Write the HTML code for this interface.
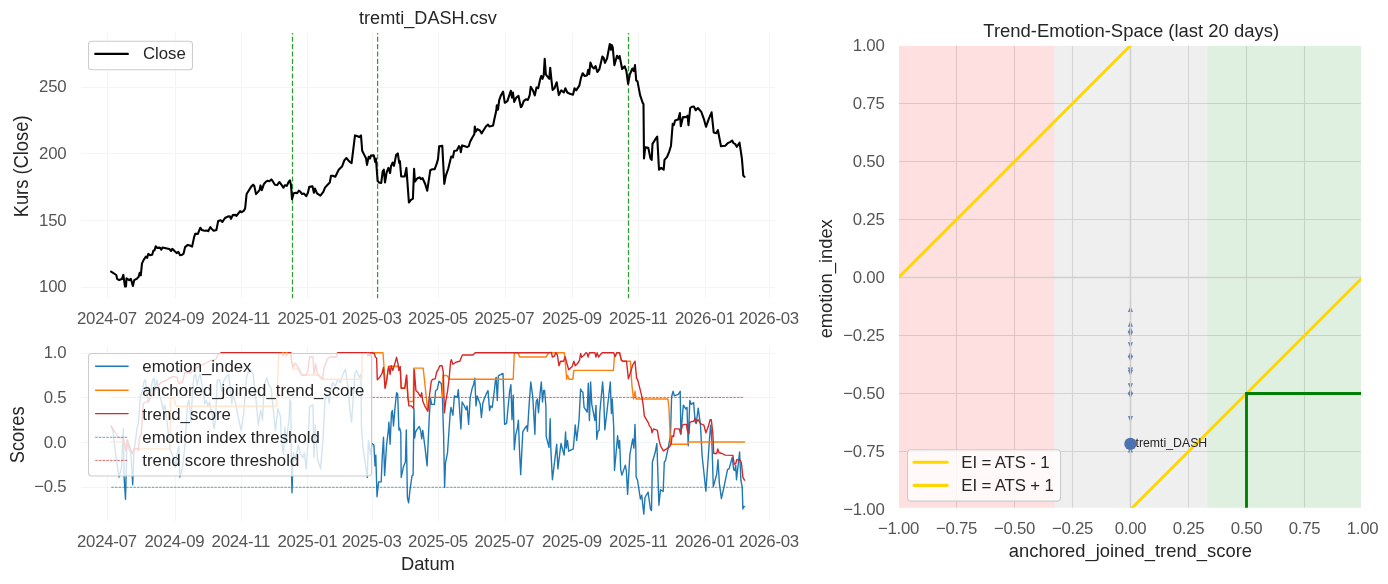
<!DOCTYPE html>
<html><head><meta charset="utf-8"><title>tremti_DASH</title>
<style>
html,body{margin:0;padding:0;background:#fff;}
svg{display:block;will-change:transform;}
text{font-family:"Liberation Sans",sans-serif;}
.tk{font-size:16.8px;fill:#555555;letter-spacing:-0.25px;}
.lg{font-size:16.8px;fill:#262626;word-spacing:-0.35px;}
.tt{font-size:18.33px;fill:#262626;}
</style></head><body>
<svg width="1388" height="584" viewBox="0 0 1388 584">
<rect width="1388" height="584" fill="#fff"/>
<defs>
<clipPath id="cr"><rect x="899" y="45.9" width="462" height="461.9"/></clipPath>
<clipPath id="cb"><rect x="80.8" y="345.8" width="694.7" height="175.1"/></clipPath>
</defs>

<g stroke="#f4f4f4" stroke-width="1" fill="none">
<line x1="107.5" y1="33.0" x2="107.5" y2="298.0"/>
<line x1="175.5" y1="33.0" x2="175.5" y2="298.0"/>
<line x1="241.5" y1="33.0" x2="241.5" y2="298.0"/>
<line x1="307.5" y1="33.0" x2="307.5" y2="298.0"/>
<line x1="372.5" y1="33.0" x2="372.5" y2="298.0"/>
<line x1="438.5" y1="33.0" x2="438.5" y2="298.0"/>
<line x1="505.5" y1="33.0" x2="505.5" y2="298.0"/>
<line x1="572.5" y1="33.0" x2="572.5" y2="298.0"/>
<line x1="638.5" y1="33.0" x2="638.5" y2="298.0"/>
<line x1="705.5" y1="33.0" x2="705.5" y2="298.0"/>
<line x1="769.5" y1="33.0" x2="769.5" y2="298.0"/>
<line x1="81.0" y1="87.5" x2="775.2" y2="87.5"/>
<line x1="81.0" y1="153.5" x2="775.2" y2="153.5"/>
<line x1="81.0" y1="220.5" x2="775.2" y2="220.5"/>
<line x1="81.0" y1="287.5" x2="775.2" y2="287.5"/>
</g>
<line x1="292.5" y1="33.0" x2="292.5" y2="298.2" stroke="#2ca02c" stroke-width="1.25" stroke-dasharray="5.14 2.214" stroke-dashoffset="3.65"/>
<line x1="377.6" y1="33.0" x2="377.6" y2="298.2" stroke="#2ca02c" stroke-width="1.25" stroke-dasharray="5.14 2.214" stroke-dashoffset="3.65"/>
<line x1="628.5" y1="33.0" x2="628.5" y2="298.2" stroke="#2ca02c" stroke-width="1.25" stroke-dasharray="5.14 2.214" stroke-dashoffset="3.65"/>
<polyline points="111.1,271.6 116.3,275.0 117.1,278.8 119.2,280.1 121.9,279.1 123.3,274.7 125.0,286.5 126.0,286.5 126.5,278.4 129.1,280.1 130.8,278.8 132.9,286.0 134.2,280.1 136.8,278.8 138.5,277.1 139.7,272.8 140.8,275.3 142.0,263.4 143.7,259.9 145.9,256.5 147.1,257.9 148.3,253.9 150.0,255.1 152.2,254.8 153.4,250.5 154.5,250.5 155.7,246.2 157.0,247.9 159.9,247.6 161.3,249.7 162.5,247.6 165.9,248.3 169.3,249.0 171.1,251.0 172.3,248.8 174.5,251.0 176.7,253.1 178.4,251.9 180.0,255.1 182.2,254.8 183.6,253.4 185.1,247.1 187.7,244.9 189.9,245.5 192.1,246.6 194.2,236.8 195.2,233.9 197.9,233.9 200.3,227.7 201.9,230.1 204.5,230.8 207.0,230.5 208.2,231.2 210.4,227.1 212.2,229.5 213.9,230.8 216.4,230.0 218.2,220.9 220.7,220.2 222.4,221.9 225.0,218.0 227.6,216.6 229.8,216.3 231.0,218.8 232.7,215.1 235.3,214.9 236.5,215.9 238.4,213.4 240.1,211.1 241.3,212.3 243.7,210.8 245.1,208.7 246.6,194.0 248.8,190.5 251.4,186.4 253.1,184.7 254.3,185.9 256.0,194.1 258.3,191.6 259.6,189.9 260.5,185.4 261.8,190.2 263.9,184.2 266.0,181.6 267.7,180.8 269.4,181.3 271.4,179.4 273.2,182.0 274.9,184.7 277.1,185.1 279.3,182.0 281.4,184.7 283.4,187.6 285.1,185.1 286.8,185.9 288.6,182.0 289.9,180.3 291.0,185.1 292.0,199.1 293.7,193.3 295.9,192.8 297.1,193.3 298.8,190.7 300.5,191.9 301.9,194.0 304.0,193.6 306.2,196.2 307.9,192.8 309.3,186.8 312.5,186.4 313.9,192.8 314.9,188.5 317.0,193.3 320.4,195.7 323.3,191.9 325.0,187.6 327.6,184.7 329.8,182.5 331.0,175.7 332.7,175.7 335.3,176.8 338.7,169.7 342.2,166.2 344.4,160.2 346.4,158.0 349.0,161.1 351.6,163.2 355.0,135.4 357.6,136.3 359.3,137.1 361.0,135.4 362.2,150.8 364.4,155.1 366.1,158.5 367.0,164.9 368.7,156.8 370.1,158.5 370.8,155.6 373.8,155.4 375.2,162.0 375.9,158.5 377.6,180.8 379.0,182.5 381.2,183.0 382.7,171.4 383.8,169.7 385.0,182.5 386.7,172.2 388.4,167.9 390.1,173.1 391.0,166.2 392.7,162.5 394.0,165.9 396.1,155.1 397.8,153.4 399.2,162.8 399.9,161.1 401.2,176.5 404.7,176.5 406.4,167.9 408.9,202.5 411.2,199.6 412.9,198.8 414.1,168.8 414.9,181.6 417.5,178.2 419.7,177.4 420.9,179.1 422.6,178.2 425.2,184.0 427.2,190.8 430.3,170.2 432.3,169.3 434.6,169.3 436.8,163.4 438.0,159.1 439.2,146.2 442.3,145.9 444.3,183.9 445.7,176.2 448.3,168.5 451.2,156.5 452.9,157.4 454.2,151.0 456.8,150.5 459.0,146.2 460.2,147.9 460.8,152.2 462.1,145.4 464.9,146.2 467.1,147.1 468.8,146.2 470.0,142.0 472.2,137.7 474.3,134.2 474.8,126.5 475.7,131.7 477.4,129.1 479.9,130.5 481.6,133.4 483.7,130.0 485.9,126.5 488.0,124.5 489.3,126.5 491.6,126.0 493.1,125.5 494.3,119.5 496.3,110.5 496.8,105.3 498.0,109.6 499.2,100.2 500.9,95.4 503.1,91.6 504.8,102.8 507.4,101.1 509.1,95.9 510.8,90.8 512.0,97.6 512.9,92.5 514.2,101.9 516.3,97.6 518.5,95.9 520.8,107.1 521.9,106.2 523.7,101.1 525.9,99.3 527.9,99.9 529.7,95.1 530.7,86.8 533.1,90.8 534.8,95.4 536.5,87.4 538.2,88.2 540.3,78.8 541.3,75.9 542.5,78.8 543.7,75.4 544.7,58.8 545.9,74.5 547.1,76.2 549.3,78.8 550.2,67.7 551.6,81.4 552.6,89.9 554.5,88.2 556.7,82.2 558.8,95.1 561.3,90.3 563.9,92.5 565.3,88.2 567.3,92.5 569.9,93.7 573.0,94.7 574.5,88.2 576.2,90.3 579.3,85.7 581.0,77.9 582.7,73.2 584.5,75.9 587.0,75.4 588.2,69.7 589.2,74.2 590.4,62.5 592.2,66.8 593.9,68.5 595.6,66.0 597.3,72.0 599.3,69.4 602.4,56.5 603.6,57.7 605.0,62.9 607.1,58.3 609.8,44.0 611.0,49.7 611.8,45.1 612.7,47.1 614.4,65.1 617.0,55.7 618.4,58.3 619.6,56.0 622.1,69.0 624.7,66.3 626.4,71.1 628.1,83.9 629.8,74.5 632.4,68.5 633.8,71.1 635.0,65.1 636.2,80.5 637.5,81.4 640.1,95.1 642.7,102.8 643.5,104.0 644.0,158.5 645.3,147.4 648.3,147.9 650.5,158.5 651.7,159.9 652.5,143.9 655.1,139.7 657.2,136.6 659.0,169.6 661.1,167.9 663.7,169.6 664.5,159.9 667.1,156.8 669.3,151.3 671.0,145.7 672.7,123.9 673.9,125.1 675.1,120.5 678.2,119.5 679.9,113.1 680.8,126.3 683.0,117.1 685.9,117.1 687.6,115.7 688.5,125.1 690.2,108.0 691.9,106.8 694.0,106.6 695.7,110.2 697.9,108.0 701.3,111.9 703.9,119.1 706.0,126.8 708.7,119.1 711.6,112.3 713.7,132.5 716.2,133.2 717.9,130.2 721.0,146.2 725.3,145.7 727.9,143.1 730.4,141.9 732.2,140.5 733.4,143.1 735.1,143.9 736.8,146.8 739.5,142.7 741.9,158.5 743.3,175.6 744.5,176.8" fill="none" stroke="#000" stroke-width="2.08" stroke-linejoin="round" stroke-linecap="round"/>
<text class="tk" x="106.9" y="324" text-anchor="middle">2024-07</text>
<text class="tk" x="174.4" y="324" text-anchor="middle">2024-09</text>
<text class="tk" x="240.9" y="324" text-anchor="middle">2024-11</text>
<text class="tk" x="307.3" y="324" text-anchor="middle">2025-01</text>
<text class="tk" x="371.6" y="324" text-anchor="middle">2025-03</text>
<text class="tk" x="438.0" y="324" text-anchor="middle">2025-05</text>
<text class="tk" x="504.4" y="324" text-anchor="middle">2025-07</text>
<text class="tk" x="571.9" y="324" text-anchor="middle">2025-09</text>
<text class="tk" x="638.4" y="324" text-anchor="middle">2025-11</text>
<text class="tk" x="704.8" y="324" text-anchor="middle">2026-01</text>
<text class="tk" x="769.0" y="324" text-anchor="middle">2026-03</text>
<text class="tk" x="66.3" y="92.3" text-anchor="end">250</text>
<text class="tk" x="66.3" y="158.9" text-anchor="end">200</text>
<text class="tk" x="66.3" y="225.5" text-anchor="end">150</text>
<text class="tk" x="66.3" y="292.1" text-anchor="end">100</text>
<text class="tt" transform="translate(427.9,24.1) scale(0.988,1.045)" text-anchor="middle">tremti_DASH.csv</text>
<text class="tt" transform="translate(27.8,166.4) rotate(-90) scale(1,1.08)" text-anchor="middle">Kurs (Close)</text>
<rect x="88.5" y="41.2" width="104" height="28.5" rx="3.3" fill="#fff" fill-opacity="0.8" stroke="#cccccc" stroke-width="1.1"/>
<line x1="95.2" y1="53.9" x2="127.9" y2="53.9" stroke="#000" stroke-width="2.08" stroke-linecap="round"/>
<text class="lg" x="142.9" y="59.2">Close</text>
<g stroke="#f4f4f4" stroke-width="1" fill="none">
<line x1="107.5" y1="346.0" x2="107.5" y2="521.0"/>
<line x1="175.5" y1="346.0" x2="175.5" y2="521.0"/>
<line x1="241.5" y1="346.0" x2="241.5" y2="521.0"/>
<line x1="307.5" y1="346.0" x2="307.5" y2="521.0"/>
<line x1="372.5" y1="346.0" x2="372.5" y2="521.0"/>
<line x1="438.5" y1="346.0" x2="438.5" y2="521.0"/>
<line x1="505.5" y1="346.0" x2="505.5" y2="521.0"/>
<line x1="572.5" y1="346.0" x2="572.5" y2="521.0"/>
<line x1="638.5" y1="346.0" x2="638.5" y2="521.0"/>
<line x1="705.5" y1="346.0" x2="705.5" y2="521.0"/>
<line x1="769.5" y1="346.0" x2="769.5" y2="521.0"/>
<line x1="81.0" y1="353.5" x2="775.2" y2="353.5"/>
<line x1="81.0" y1="397.5" x2="775.2" y2="397.5"/>
<line x1="81.0" y1="442.5" x2="775.2" y2="442.5"/>
<line x1="81.0" y1="487.5" x2="775.2" y2="487.5"/>
</g>
<g clip-path="url(#cb)" fill="none" stroke-linejoin="round" stroke-linecap="round">
<polyline points="111.3,426.5 113.0,431.7 115.5,453.1 117.3,465.1 119.0,477.1 121.5,467.6 123.3,428.3 124.1,477.0 125.5,499.3 126.7,451.4 127.5,439.4 129.2,449.7 131.0,453.0 132.7,484.8 134.0,451.4 137.0,429.1 138.5,422.0 140.4,395.9 142.4,391.3 143.9,382.0 145.5,379.7 147.0,394.3 148.6,402.0 150.1,397.4 152.4,380.5 154.0,378.1 155.2,389.7 156.3,382.0 157.0,380.5 159.4,394.3 160.9,399.0 163.2,409.8 164.8,405.1 166.9,420.5 170.3,449.7 172.9,456.5 175.5,467.6 177.2,453.1 178.9,446.2 179.8,477.1 182.3,468.5 184.9,446.2 187.5,405.1 189.0,400.0 191.0,422.0 192.5,391.3 194.0,375.8 195.6,374.3 197.1,385.1 198.7,378.1 200.2,374.3 201.8,383.5 203.3,392.8 204.8,403.6 206.4,400.5 207.9,406.7 209.5,402.0 211.8,412.8 214.1,428.3 215.6,419.0 217.2,380.5 219.5,379.7 221.8,391.3 223.3,382.0 225.7,377.4 228.7,374.3 230.3,388.2 231.8,403.6 232.6,394.7 235.1,401.5 238.6,418.6 241.1,430.6 243.7,413.5 246.3,379.2 248.0,372.4 250.5,369.8 253.1,374.1 255.7,396.4 258.3,425.5 260.8,410.1 262.5,420.3 264.2,384.4 266.8,377.5 268.5,384.4 271.1,387.8 272.8,404.9 275.4,430.6 277.9,408.4 280.5,416.9 281.3,440.4 283.6,454.3 284.8,427.2 285.9,443.5 289.1,418.6 289.9,399.8 290.8,401.5 291.3,463.5 292.0,492.8 293.3,452.8 295.1,460.5 298.2,445.0 300.5,454.3 302.8,457.4 304.4,452.8 306.2,468.9 308.2,440.4 309.6,406.6 313.0,404.9 313.9,457.4 315.2,425.0 317.5,458.9 320.6,468.9 322.9,440.4 325.0,399.8 327.6,394.7 329.3,403.2 331.0,387.8 332.7,382.7 335.3,386.1 337.9,379.2 340.4,382.7 343.0,374.1 345.5,369.0 348.1,387.8 349.9,410.1 351.6,422.1 353.3,396.4 355.0,372.4 356.7,370.7 359.2,377.5 361.0,374.1 361.4,425.0 363.0,448.1 365.3,463.5 367.3,477.4 368.4,440.4 370.4,454.3 371.9,443.5 373.9,445.0 375.0,465.9 375.8,455.1 377.0,496.7 378.6,482.0 381.2,481.7 382.3,455.8 383.5,437.3 384.6,475.6 386.6,445.0 388.4,429.6 388.9,422.1 390.1,444.3 391.5,412.8 392.4,410.5 393.5,426.0 395.1,406.7 396.6,392.8 397.7,394.0 398.9,430.0 399.7,428.1 400.8,432.7 401.2,477.4 403.5,466.6 405.4,462.0 406.3,430.0 407.4,497.5 408.6,502.9 410.0,489.8 412.0,475.9 413.1,475.1 414.0,409.0 414.6,438.1 415.6,431.9 417.4,428.9 419.3,426.5 420.8,431.2 421.7,438.9 422.8,430.4 425.1,448.1 427.1,465.9 429.4,414.4 430.5,398.2 431.6,404.4 434.4,404.4 435.6,390.5 437.2,389.7 439.0,381.2 441.3,383.5 442.4,397.4 443.6,435.0 444.6,487.4 445.5,462.8 447.5,452.8 450.1,414.4 451.0,407.4 452.9,415.2 454.4,395.9 457.2,397.4 458.3,389.7 459.4,406.7 460.9,429.0 462.1,402.0 464.4,405.9 466.0,409.8 467.1,405.9 468.6,424.4 470.2,397.4 472.2,388.2 473.7,384.3 474.8,378.1 476.0,405.9 477.2,395.9 479.1,401.3 480.3,404.4 481.4,417.5 482.9,402.8 484.5,398.2 486.8,392.8 488.0,390.5 489.6,410.5 490.7,405.9 492.2,407.4 494.2,392.0 495.7,378.1 496.2,377.4 497.3,400.5 498.4,375.8 500.4,374.6 503.0,373.5 504.6,424.4 506.6,423.3 509.6,391.3 510.9,384.8 512.0,419.8 513.2,395.1 514.3,449.7 515.8,434.3 517.4,428.1 518.4,420.2 519.4,448.1 520.7,474.6 522.8,431.6 525.1,427.8 526.6,425.8 527.5,431.2 529.2,403.6 530.8,382.0 532.8,397.4 534.9,434.3 535.6,409.8 536.3,401.3 537.4,399.0 538.5,412.8 540.0,394.3 541.3,382.0 542.5,402.0 543.6,390.5 544.6,390.5 545.9,406.7 546.2,436.6 549.0,447.4 550.2,418.7 550.8,448.1 552.4,479.7 556.7,444.3 557.9,468.9 561.0,443.5 564.1,455.1 565.6,431.9 566.2,448.1 567.5,440.4 568.7,451.2 573.3,448.9 574.9,429.6 575.2,424.9 576.7,440.4 579.0,420.5 580.6,388.9 581.6,391.3 582.9,392.0 584.1,407.4 587.2,412.1 588.3,383.2 589.4,420.5 590.6,382.0 591.8,404.4 594.9,420.5 596.0,405.4 596.8,439.2 598.0,431.2 599.1,430.4 599.8,412.8 602.6,382.0 603.7,397.4 604.8,429.8 606.8,412.8 610.3,382.0 611.4,413.6 612.2,399.0 613.7,426.7 614.5,470.5 617.6,435.8 618.8,448.1 619.6,440.4 620.7,469.7 621.9,475.1 625.3,465.1 626.4,471.3 627.6,494.4 629.9,454.3 632.7,438.9 633.9,448.1 635.0,424.4 635.8,448.1 636.1,476.7 637.6,480.5 640.4,499.0 641.7,495.2 643.8,514.1 645.0,497.5 648.1,492.1 650.4,509.0 651.5,510.6 652.4,462.0 655.1,452.8 656.9,443.5 658.9,505.2 660.5,489.8 663.2,491.3 664.3,462.0 665.4,460.8 668.2,448.1 670.5,435.0 671.6,396.7 673.1,391.3 674.3,395.9 678.2,394.3 680.2,391.3 680.9,434.5 683.3,405.1 685.9,409.0 687.0,407.4 688.2,445.8 689.8,400.5 691.3,404.4 693.6,402.4 695.2,422.1 696.2,423.6 698.2,408.2 700.5,425.2 702.1,455.8 705.9,491.3 709.5,438.9 710.6,425.2 711.3,431.2 712.1,448.1 713.3,486.7 716.7,474.3 718.0,459.7 719.4,483.6 721.4,498.7 724.4,485.1 727.5,469.7 729.1,468.9 732.2,457.4 733.7,469.7 734.8,470.5 735.7,465.1 736.5,479.7 739.6,452.0 740.9,480.5 742.2,486.7 742.9,509.0 743.7,506.4 744.5,506.7" stroke="#1f77b4" stroke-width="1.39"/>
<polyline points="111.1,441.9 123.8,441.9 125.0,445.0 125.8,451.2 127.3,440.4 130.4,448.9 132.3,453.5 134.2,448.9 170.0,448.9 170.5,398.2 173.5,398.2 176.5,406.3 276.6,406.3 278.8,352.7 290.8,352.7 292.5,369.0 299.5,369.0 300.2,372.4 301.9,375.0 317.3,375.0 319.9,376.7 322.5,379.2 361.8,379.2 362.2,352.7 383.0,352.7 384.0,366.8 385.3,388.0 387.2,377.1 388.5,366.2 398.5,366.2 398.9,370.4 400.2,366.6 401.2,388.2 404.8,388.2 406.6,375.1 407.9,397.4 408.6,401.5 413.3,401.5 413.7,368.1 423.2,368.1 427.6,410.0 429.6,397.4 442.6,397.4 442.9,375.2 446.9,375.6 449.5,379.2 513.2,379.2 514.3,352.7 518.1,352.7 519.7,357.0 545.9,357.0 549.0,352.7 564.4,352.7 566.7,379.2 567.5,375.1 569.0,379.2 572.9,379.2 573.9,370.4 613.4,370.4 614.5,355.8 615.0,356.6 616.8,352.7 619.6,352.7 621.4,360.4 623.0,361.2 630.4,361.2 631.9,385.1 633.5,399.0 635.0,391.3 636.1,399.0 667.9,399.0 668.9,406.7 670.5,444.3 687.4,444.3 688.5,442.0 744.5,442.0" stroke="#ff7f0e" stroke-width="1.39"/>
<polyline points="111.1,425.8 115.0,432.0 117.3,435.8 118.8,437.3 123.4,438.5 125.0,445.0 125.8,451.2 127.3,440.4 130.4,448.9 132.3,453.5 134.2,448.9 137.3,448.5 138.5,450.4 139.2,438.1 141.2,435.0 141.9,425.0 143.2,403.6 146.3,402.0 149.3,399.7 152.4,394.3 155.5,389.7 158.6,385.1 161.7,382.0 166.3,380.5 170.2,377.4 174.0,376.6 177.1,377.4 178.6,383.5 182.5,382.0 184.8,372.8 191.0,372.8 194.0,369.7 198.7,366.6 204.8,363.5 211.0,360.4 215.6,359.6 217.9,355.0 221.0,352.7 281.4,352.7 283.0,356.0 284.7,352.7 286.5,356.0 288.2,352.7 290.8,352.7 291.6,362.1 293.4,367.3 295.1,363.0 297.6,366.4 300.2,372.4 301.9,375.0 306.2,375.0 307.9,370.7 309.6,357.0 313.0,357.0 313.9,374.1 315.6,363.8 317.3,373.3 319.9,376.7 322.5,379.2 324.2,367.3 327.6,358.7 330.2,357.0 336.2,357.0 337.5,352.7 367.0,352.7 367.8,356.0 368.7,352.7 369.6,356.0 370.4,352.7 371.9,352.7 374.3,353.5 375.5,357.3 376.6,358.1 377.3,379.7 379.6,377.4 382.0,373.5 383.5,367.4 385.0,388.2 386.6,380.5 388.1,369.7 388.9,366.6 390.1,374.3 391.2,365.8 392.8,370.4 395.1,362.7 396.6,357.3 398.1,364.3 398.9,370.4 400.2,366.6 401.2,388.2 404.8,388.2 406.6,375.1 407.9,397.4 408.9,405.9 411.3,405.9 413.6,408.5 414.3,369.7 415.9,390.5 418.2,392.8 420.5,396.7 421.7,392.8 422.8,401.3 425.1,406.7 427.9,411.3 429.8,392.8 431.3,381.2 432.8,379.2 435.2,378.9 436.7,372.0 438.2,369.7 439.8,365.8 442.1,365.8 443.3,372.0 444.4,412.8 445.9,400.5 447.5,391.3 449.0,379.7 450.6,362.0 451.3,359.6 452.9,364.3 455.2,362.7 457.5,361.7 459.8,361.2 461.4,357.3 462.4,355.0 472.9,355.0 475.2,352.7 549.0,352.7 551.3,352.4 552.4,357.0 554.4,356.1 555.9,352.7 557.4,355.0 559.0,365.8 560.5,361.2 563.6,361.2 565.2,356.6 566.7,362.7 568.7,369.7 572.1,366.6 573.9,361.2 575.2,365.8 577.5,363.5 579.5,360.4 580.6,353.5 581.6,357.3 583.7,355.5 586.0,352.7 587.2,353.5 588.1,357.0 589.4,352.7 594.9,352.7 596.0,357.0 597.1,352.7 598.6,357.0 600.6,354.3 602.2,352.7 613.7,352.7 615.0,356.6 616.8,352.7 619.6,352.7 621.4,360.4 623.0,361.2 626.5,361.2 628.4,378.9 630.4,372.8 632.7,365.0 635.0,361.2 636.6,378.1 637.6,379.7 639.6,387.4 641.7,395.9 643.2,405.1 644.3,415.9 646.6,419.8 648.4,422.9 649.4,425.9 651.2,428.1 652.0,432.7 653.5,428.9 657.4,430.4 658.6,438.1 660.5,445.8 663.5,450.9 666.6,448.9 669.7,446.6 671.3,443.5 672.0,435.8 673.6,436.6 674.6,428.9 679.3,428.9 680.5,433.5 682.4,425.2 684.4,424.4 686.4,424.4 687.4,430.6 689.0,433.6 689.8,422.1 693.6,421.3 695.2,418.2 696.2,422.1 698.2,419.8 700.5,423.6 703.9,425.2 705.9,432.8 708.3,426.6 710.1,419.8 711.3,419.8 712.6,431.3 712.9,434.3 713.7,453.5 716.7,453.5 717.8,448.9 719.0,452.8 722.1,453.5 725.2,455.1 732.9,455.4 734.2,464.3 735.7,463.5 736.8,459.7 739.9,459.7 741.4,462.8 742.9,477.4 744.5,480.2" stroke="#d62728" stroke-width="1.39"/>
</g>
<line x1="111.3" y1="487.3" x2="743.7" y2="487.3" stroke="#1f77b4" stroke-width="0.7" stroke-dasharray="2.57 1.11"/>
<line x1="111.3" y1="397.4" x2="743.7" y2="397.4" stroke="#d62728" stroke-width="0.7" stroke-dasharray="2.57 1.11"/>
<text class="tk" x="106.9" y="546.6" text-anchor="middle">2024-07</text>
<text class="tk" x="174.4" y="546.6" text-anchor="middle">2024-09</text>
<text class="tk" x="240.9" y="546.6" text-anchor="middle">2024-11</text>
<text class="tk" x="307.3" y="546.6" text-anchor="middle">2025-01</text>
<text class="tk" x="371.6" y="546.6" text-anchor="middle">2025-03</text>
<text class="tk" x="438.0" y="546.6" text-anchor="middle">2025-05</text>
<text class="tk" x="504.4" y="546.6" text-anchor="middle">2025-07</text>
<text class="tk" x="571.9" y="546.6" text-anchor="middle">2025-09</text>
<text class="tk" x="638.4" y="546.6" text-anchor="middle">2025-11</text>
<text class="tk" x="704.8" y="546.6" text-anchor="middle">2026-01</text>
<text class="tk" x="769.0" y="546.6" text-anchor="middle">2026-03</text>
<text class="tk" x="66.3" y="358.4" text-anchor="end">1.0</text>
<text class="tk" x="66.3" y="403.1" text-anchor="end">0.5</text>
<text class="tk" x="66.3" y="447.7" text-anchor="end">0.0</text>
<text class="tk" x="66.3" y="492.4" text-anchor="end">−0.5</text>
<text class="tt" transform="translate(427.9,569.8) scale(1,1.045)" text-anchor="middle">Datum</text>
<text class="tt" transform="translate(24.3,434.8) rotate(-90) scale(1,1.08)" text-anchor="middle">Scores</text>
<rect x="88.5" y="353.5" width="283" height="122.5" rx="3.3" fill="#fff" fill-opacity="0.8" stroke="#cccccc" stroke-width="1.1"/>
<line x1="95.6" y1="366.3" x2="128.1" y2="366.3" stroke="#1f77b4" stroke-width="1.39" stroke-linecap="round"/>
<text class="lg" x="142.3" y="372.2">emotion_index</text>
<line x1="95.6" y1="390.2" x2="128.1" y2="390.2" stroke="#ff7f0e" stroke-width="1.39" stroke-linecap="round"/>
<text class="lg" x="142.3" y="396.1">anchored_joined_trend_score</text>
<line x1="95.6" y1="413.6" x2="128.1" y2="413.6" stroke="#d62728" stroke-width="1.39" stroke-linecap="round"/>
<text class="lg" x="142.3" y="419.5">trend_score</text>
<line x1="95.2" y1="437.3" x2="128.0" y2="437.3" stroke="#1f77b4" stroke-width="0.7" stroke-dasharray="2.57 1.11"/>
<text class="lg" x="142.3" y="443.2">emotion index threshold</text>
<line x1="95.2" y1="460.4" x2="128.0" y2="460.4" stroke="#d62728" stroke-width="0.7" stroke-dasharray="2.57 1.11"/>
<text class="lg" x="142.3" y="466.3">trend score threshold</text>
<g stroke="#e0e0e0" stroke-width="1.1" fill="none" clip-path="url(#cr)">
<line x1="956.5" y1="45.9" x2="956.5" y2="507.8"/>
<line x1="899" y1="451.5" x2="1361" y2="451.5"/>
<line x1="1014.5" y1="45.9" x2="1014.5" y2="507.8"/>
<line x1="899" y1="393.5" x2="1361" y2="393.5"/>
<line x1="1072.5" y1="45.9" x2="1072.5" y2="507.8"/>
<line x1="899" y1="335.5" x2="1361" y2="335.5"/>
<line x1="1130.5" y1="45.9" x2="1130.5" y2="507.8"/>
<line x1="899" y1="277.5" x2="1361" y2="277.5"/>
<line x1="1188.5" y1="45.9" x2="1188.5" y2="507.8"/>
<line x1="899" y1="219.5" x2="1361" y2="219.5"/>
<line x1="1246.5" y1="45.9" x2="1246.5" y2="507.8"/>
<line x1="899" y1="161.5" x2="1361" y2="161.5"/>
<line x1="1304.5" y1="45.9" x2="1304.5" y2="507.8"/>
<line x1="899" y1="103.5" x2="1361" y2="103.5"/>
</g>
<rect x="899" y="45.9" width="155.3" height="461.9" fill="#ff0000" fill-opacity="0.12"/>
<rect x="1054.3" y="45.9" width="153.4" height="461.9" fill="#808080" fill-opacity="0.13"/>
<rect x="1207.7" y="45.9" width="153.3" height="461.9" fill="#008000" fill-opacity="0.12"/>
<line x1="1130.5" y1="45.9" x2="1130.5" y2="507.8" stroke="#cfcfcf" stroke-width="1.4"/>
<line x1="899" y1="277.5" x2="1361" y2="277.5" stroke="#cfcfcf" stroke-width="1.4"/>
<g clip-path="url(#cr)" fill="none">
<line x1="898.5" y1="277.5" x2="1130.5" y2="45.5" stroke="#ffd700" stroke-width="2.9" stroke-linecap="round"/>
<line x1="1130.5" y1="509.5" x2="1362.5" y2="277.5" stroke="#ffd700" stroke-width="2.9" stroke-linecap="round"/>
<polyline points="1246.5,509.5 1246.5,393.5 1362.5,393.5" stroke="#008000" stroke-width="2.9" stroke-linejoin="miter"/>
</g>
<g fill="#4c72b0" fill-opacity="0.85" stroke="none">
<polygon points="1127.8,312.1 1130.4,306.2 1133.0,312.1"/>
<polygon points="1127.8,326.7 1130.4,320.8 1133.0,326.7"/>
<polygon points="1127.8,332.5 1130.4,326.6 1133.0,332.5"/>
<polygon points="1127.8,357.3 1130.4,351.4 1133.0,357.3"/>
<polygon points="1127.8,394.5 1130.4,388.6 1133.0,394.5"/>
<polygon points="1127.8,452.4 1130.4,446.5 1133.0,452.4"/>
<polygon points="1127.8,331.6 1130.4,337.5 1133.0,331.6"/>
<polygon points="1127.8,342.2 1130.4,348.1 1133.0,342.2"/>
<polygon points="1127.8,355.7 1130.4,361.6 1133.0,355.7"/>
<polygon points="1127.8,367.6 1130.4,373.5 1133.0,367.6"/>
<polygon points="1127.8,370.1 1130.4,376.0 1133.0,370.1"/>
<polygon points="1127.8,383.2 1130.4,389.1 1133.0,383.2"/>
<polygon points="1127.8,392.6 1130.4,398.5 1133.0,392.6"/>
<polygon points="1127.8,416.1 1130.4,422.0 1133.0,416.1"/>
</g>
<line x1="1130.5" y1="300" x2="1130.5" y2="456" stroke="#cfcfcf" stroke-width="1.3"/>
<circle cx="1130.4" cy="443.9" r="6.15" fill="#4c72b0"/>
<text x="1135.5" y="446.8" font-size="12.3" fill="#262626">tremti_DASH</text>
<text class="tk" x="898.5" y="534" text-anchor="middle">−1.00</text>
<text class="tk" x="884.5" y="514.8" text-anchor="end">−1.00</text>
<text class="tk" x="956.5" y="534" text-anchor="middle">−0.75</text>
<text class="tk" x="884.5" y="456.8" text-anchor="end">−0.75</text>
<text class="tk" x="1014.5" y="534" text-anchor="middle">−0.50</text>
<text class="tk" x="884.5" y="398.8" text-anchor="end">−0.50</text>
<text class="tk" x="1072.5" y="534" text-anchor="middle">−0.25</text>
<text class="tk" x="884.5" y="340.8" text-anchor="end">−0.25</text>
<text class="tk" x="1130.5" y="534" text-anchor="middle">0.00</text>
<text class="tk" x="884.5" y="282.8" text-anchor="end">0.00</text>
<text class="tk" x="1188.5" y="534" text-anchor="middle">0.25</text>
<text class="tk" x="884.5" y="224.8" text-anchor="end">0.25</text>
<text class="tk" x="1246.5" y="534" text-anchor="middle">0.50</text>
<text class="tk" x="884.5" y="166.8" text-anchor="end">0.50</text>
<text class="tk" x="1304.5" y="534" text-anchor="middle">0.75</text>
<text class="tk" x="884.5" y="108.8" text-anchor="end">0.75</text>
<text class="tk" x="1362.5" y="534" text-anchor="middle">1.00</text>
<text class="tk" x="884.5" y="50.8" text-anchor="end">1.00</text>
<text class="tt" transform="translate(1131.2,36.6) scale(1.008,1.045)" text-anchor="middle">Trend-Emotion-Space (last 20 days)</text>
<text class="tt" transform="translate(1130.4,556.9) scale(1.003,1.03)" text-anchor="middle">anchored_joined_trend_score</text>
<text class="tt" transform="translate(832.2,278.8) rotate(-90) scale(1,1.05)" text-anchor="middle">emotion_index</text>
<rect x="907.5" y="449.7" width="153" height="51.4" rx="3.3" fill="#fff" fill-opacity="0.8" stroke="#cccccc" stroke-width="1.1"/>
<line x1="914.1" y1="462.2" x2="947.2" y2="462.2" stroke="#ffd700" stroke-width="3.1" stroke-linecap="round"/>
<text class="lg" x="961.3" y="468.1" word-spacing="-0.6">EI = ATS - 1</text>
<line x1="914.1" y1="485.4" x2="947.2" y2="485.4" stroke="#ffd700" stroke-width="3.1" stroke-linecap="round"/>
<text class="lg" x="961.3" y="491.3" word-spacing="-0.85">EI = ATS + 1</text>
</svg></body></html>
